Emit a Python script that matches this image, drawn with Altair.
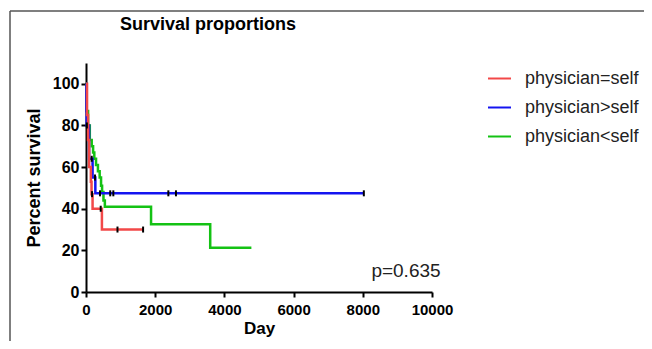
import altair as alt
import pandas as pd

chart_title = "Survival proportions"
p_text = "p=0.635"
groups = ["physician=self", "physician>self", "physician<self"]
colors = ["#f24848", "#1414f0", "#14c214"]

# Kaplan-Meier step points (day, percent)
red_t = [0, 30, 60, 90, 140, 160, 190, 460, 1650]
red_s = [100, 85, 73, 60, 53, 47, 40, 30, 30]
blue_t = [0, 10, 20, 90, 190, 270, 8030]
blue_s = [100, 87, 80, 64, 55, 47.4, 47.4]
green_t = [0, 10, 60, 110, 165, 205, 240, 290, 345, 395, 435, 465, 505, 545, 1880, 3590, 4780]
green_s = [100, 87, 80, 73, 70, 67, 64, 61, 58, 55, 51, 48, 44, 41, 32.5, 21.3, 21.3]

# censor marks
red_ct = [175, 425, 910, 1650]
red_cs = [47, 40, 30, 30]
blue_ct = [25, 165, 260, 405, 700, 790, 2380, 2600, 8030]
blue_cs = [80, 64, 55, 47.4, 47.4, 47.4, 47.4, 47.4, 47.4]

x_ticks = [0, 2000, 4000, 6000, 8000, 10000]
y_ticks = [0, 20, 40, 60, 80, 100]

# drawing order: green first, then blue, red on top
rows = []
for g, ts, ss in zip([groups[2], groups[1], groups[0]],
                     [green_t, blue_t, red_t], [green_s, blue_s, red_s]):
    for t, s in zip(ts, ss):
        rows.append({"group": g, "day": t, "pct": s})
lines_df = pd.DataFrame(rows)

crows = []
for g, ts, ss in zip(groups[:2], [red_ct, blue_ct], [red_cs, blue_cs]):
    for t, s in zip(ts, ss):
        crows.append({"group": g, "day": t, "pct": s})
cens_df = pd.DataFrame(crows)

FONT = "Liberation Sans"

xscale = alt.Scale(domain=[0, 10000], nice=False)
yscale = alt.Scale(domain=[0, 110], nice=False)

axis_common = dict(
    grid=False, domainColor="black", domainWidth=2, tickColor="black", tickWidth=2,
    tickSize=5, labelFont=FONT, labelFontWeight="bold",
    labelColor="black", titleFont=FONT, titleFontWeight="bold", titleColor="black",
    labelFlush=False, labelOverlap=False, format="d",
)

lines = alt.Chart(lines_df).mark_line(interpolate="step-after", strokeWidth=2.5).encode(
    x=alt.X("day:Q", scale=xscale,
            axis=alt.Axis(values=x_ticks, title="Day", titleFontSize=17, labelFontSize=15,
                          labelPadding=5, titlePadding=3, **axis_common)),
    y=alt.Y("pct:Q", scale=yscale,
            axis=alt.Axis(values=y_ticks, title="Percent survival", titleFontSize=18,
                          labelFontSize=16, labelPadding=2, titlePadding=9, **axis_common)),
    color=alt.Color("group:N", scale=alt.Scale(domain=groups, range=colors),
                    sort=groups,
                    legend=alt.Legend(title=None, orient="none", legendX=401, legendY=3,
                                      symbolType="stroke", symbolSize=529,
                                      symbolStrokeWidth=2, labelFont=FONT,
                                      labelFontSize=18, labelColor="#222",
                                      labelOffset=13, rowPadding=7)),
)

cens = alt.Chart(cens_df).mark_point(
    shape="M0,-1L0,1", size=36, strokeWidth=2, color="black", opacity=1, filled=False
).encode(
    x=alt.X("day:Q", scale=xscale),
    y=alt.Y("pct:Q", scale=yscale),
)

title_mark = alt.Chart(pd.DataFrame({"t": [chart_title]})).mark_text(
    font=FONT, fontSize=18, fontWeight="bold", color="black", align="center", baseline="middle"
).encode(text="t:N", x=alt.value(122), y=alt.value(-38))

p_mark = alt.Chart(pd.DataFrame({"t": [p_text]})).mark_text(
    font=FONT, fontSize=19, color="#222", align="center", baseline="middle"
).encode(text="t:N", x=alt.value(320), y=alt.value(208))

frame_df = pd.DataFrame({"a": [0]})
frame_top = alt.Chart(frame_df).mark_rule(color="#555", strokeWidth=1.5).encode(
    x=alt.value(-76), x2=alt.value(570), y=alt.value(-52))
frame_left = alt.Chart(frame_df).mark_rule(color="#555", strokeWidth=1.5).encode(
    x=alt.value(-76), y=alt.value(-52), y2=alt.value(290))

chart = alt.layer(frame_top, frame_left, lines, cens, title_mark, p_mark).properties(
    width=346, height=229,
    background="white",
    autosize=alt.AutoSizeParams(type="none"),
    padding={"left": 78, "top": 55, "right": 212, "bottom": 49},
).configure_view(stroke=None)

chart.save("out.html", embed_options={"renderer": "svg", "actions": False})
